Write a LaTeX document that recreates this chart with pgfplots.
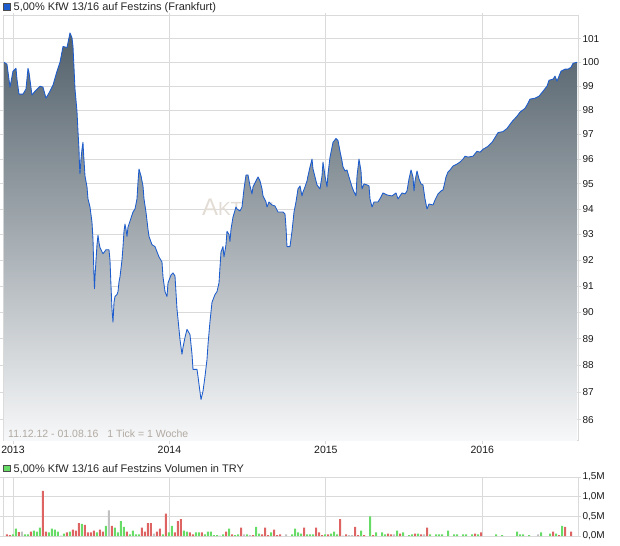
\documentclass[border=0pt]{standalone}
\usepackage{fontspec}
\setmainfont{Liberation Sans}
\usepackage{pgfplots}
\usepackage{pgfplotstable}
\pgfplotsset{compat=1.18}
\definecolor{gridgray}{RGB}{218,218,218}
\definecolor{lineblue}{RGB}{28,92,205}
\definecolor{shadetop}{RGB}{82,96,106}
\definecolor{shadebot}{RGB}{247,248,249}
\definecolor{volred}{RGB}{222,100,100}
\definecolor{volgreen}{RGB}{102,220,102}
\definecolor{volgray}{RGB}{192,192,192}
\definecolor{datetext}{RGB}{178,170,162}
\definecolor{wmark}{RGB}{226,220,212}

\pgfplotstableread{
w p
0 100.0
1 99.92
2 98.96
3 99.63
4 99.75
4.33 99.29
5 98.67
6.33 98.67
7.33 98.88
8 99.75
8.33 99.58
9.33 98.63
10.33 98.79
12 99.0
13 98.96
14 98.5
15.33 98.79
16.33 99.04
17.67 99.63
18.67 100.0
19.67 100.67
21 100.63
22 101.25
22.67 101.04
23 100.67
23.67 98.88
24.33 97.96
24.67 97.12
25 96.4
25.17 95.72
25.33 95.4
25.67 96.0
26 96.4
26.33 96.68
26.5 96.28
27 95.32
27.67 94.88
28 94.4
28.67 94.08
29.33 93.48
29.67 92.8
30 91.35
30.17 90.89
30.33 91.35
31 92.6
31.33 92.96
31.67 92.68
32 92.48
33 92.24
34 92.4
35 92.4
35.33 92.0
35.67 91.0
36 90.11
36.33 89.62
36.67 90.37
37 90.59
37.67 90.67
38 90.78
38.33 91.15
38.67 91.35
39.33 92.0
39.67 92.52
40 93.12
40.33 93.4
40.67 93.2
41 92.92
41.33 93.28
42 93.52
43 93.88
43.67 94.0
44.33 94.4
44.67 95.08
45 95.6
45.67 95.32
46.33 94.92
46.67 94.4
47.33 93.88
48 93.2
48.33 92.92
49.33 92.6
50.33 92.52
51 92.32
51.67 92.12
52.67 91.92
53 91.35
53.67 90.78
54.33 90.59
54.67 91.11
55.67 91.42
56.33 91.5
57 91.38
57.67 90.11
58 89.73
58.67 88.96
59.33 88.41
59.67 88.67
60.33 89.04
61 89.35
62 89.15
62.67 88.41
63 87.85
64.33 87.85
64.67 87.59
65 87.3
65.67 86.74
66.33 87.04
67 87.59
67.67 88.22
68 88.78
68.67 89.65
69.33 90.37
70.33 90.67
71 90.78
71.67 91.12
72 91.73
72.33 92.31
73 92.52
73.33 92.12
74 92.6
74.33 93.12
75 93.0
75.33 92.72
75.67 93.2
76.33 93.68
77.33 94.08
77.67 94.0
78.67 93.92
79.33 94.08
80 94.8
80.67 95.36
81.33 95.36
82 94.92
82.67 94.6
83 94.88
84 95.12
84.67 95.28
85.33 95.12
86 94.8
86.33 94.52
87.33 94.28
87.67 94.08
88.33 94.28
89.33 94.16
90.33 94.12
91.33 93.88
93 93.88
93.67 93.8
94 93.28
94.33 92.52
95.33 92.52
96 93.12
96.67 93.88
97.33 94.28
98 94.8
98.67 94.92
99.33 94.52
99.67 94.68
100.33 94.88
101 95.12
101.33 95.32
102 95.68
102.67 96.0
103 95.6
103.67 95.28
104.33 94.96
105.33 94.8
106 95.32
106.33 95.88
107 95.32
107.67 94.88
108 95.4
108.67 96.08
109.33 96.48
109.67 96.68
110.67 96.84
111.33 96.76
112 96.32
112.67 95.92
113 95.68
113.67 95.52
114.33 95.56
115 95.28
116 94.88
116.67 94.68
117.33 94.52
117.67 95.32
118.33 96.0
119 95.52
119.33 94.8
120 95.0
121 94.96
121.67 94.92
122 94.4
122.67 94.08
123.33 94.28
124.67 94.28
125.67 94.48
126.33 94.64
127.67 94.56
129.33 94.52
130.67 94.64
131.33 94.4
132 94.52
132.67 94.64
133.67 94.6
134.33 94.72
135 95.2
135.67 95.56
136.33 95.28
136.67 94.72
137 95.12
137.67 95.52
138.33 95.2
139 95.0
139.67 94.96
140.33 94.4
141 94.0
141.67 94.2
143 94.16
143.67 94.36
144.67 94.6
145.67 94.72
146.33 94.76
146.67 94.92
147.33 95.28
148 95.48
148.67 95.56
149.67 95.72
151 95.8
152 95.88
153 96.0
153.67 96.12
154.67 96.08
156.33 96.12
157.67 96.32
158.67 96.28
159.67 96.4
161.33 96.52
162.67 96.68
163.67 96.88
164.67 97.08
166.33 97.12
167.67 97.25
168.67 97.42
169.67 97.58
171 97.75
172 97.92
173.67 98.08
174.67 98.29
175.33 98.46
177 98.5
178.33 98.58
179.67 98.79
181 99.0
181.67 99.25
183 99.29
183.67 99.42
184.33 99.21
185.67 99.63
187 99.71
188 99.71
189 99.79
189.67 99.96
191 100.0
}\pricetable

\begin{document}
\begin{tikzpicture}
\path[use as bounding box] (0,0) rectangle (620bp,-546bp);
% title legend
\filldraw[fill=lineblue, draw=black!70, line width=0.6bp] (3.5bp,-3.5bp) rectangle (10bp,-10bp);
\node[anchor=base west, inner sep=0pt, font=\fontsize{11bp}{13bp}\selectfont, text=black!85] at (13.5bp,-10.3bp) {5,00\% KfW 13/16 auf Festzins (Frankfurt)};
% volume legend
\filldraw[fill=volgreen, draw=black!70, line width=0.6bp] (3.5bp,-465bp) rectangle (10bp,-471.5bp);
\node[anchor=base west, inner sep=0pt, font=\fontsize{11bp}{13bp}\selectfont, text=black!85] at (13.5bp,-472.3bp) {5,00\% KfW 13/16 auf Festzins Volumen in TRY};

\begin{axis}[
  at={(3bp,-16bp)}, anchor=north west,
  width=575bp, height=425bp, scale only axis,
  xmin=-0.33, xmax=191.33,
  ymode=log, log origin y=infty,
  ymin=85.24, ymax=101.98,
  xtick={3,55.14,107.29,159.43},
  xticklabels={2013,2014,2015,2016},
  ytick={86,87,88,89,90,91,92,93,94,95,96,97,98,99,100,101},
  yticklabels={86,87,88,89,90,91,92,93,94,95,96,97,98,99,100,101},
  yticklabel pos=right,
  grid=major,
  major grid style={draw=gridgray, line width=0.8bp},
  axis line style={draw=gridgray, line width=0.8bp},
  tick style={draw=gridgray, line width=0.8bp},
  tick align=outside, major tick length=3bp,
  xticklabel style={font=\fontsize{10.5bp}{12bp}\selectfont, text=black!90, yshift=1.5bp},
  yticklabel style={font=\fontsize{10bp}{12bp}\selectfont, text=black!90, xshift=-2bp},
  clip=true,
]
\node[anchor=center, text=wmark, font=\fontsize{24bp}{24bp}\selectfont] at (axis cs:78,94.05) {A{\fontsize{19bp}{19bp}\selectfont KTIEN}};
\addplot[draw=none, shade, top color=shadetop, bottom color=shadebot] table[x=w, y=p] {\pricetable} \closedcycle;
\addplot[draw=lineblue, line width=0.85bp, line join=round] table[x=w, y=p] {\pricetable};
\node[anchor=base west, inner sep=0pt, text=datetext, font=\fontsize{10.5bp}{12bp}\selectfont] at (rel axis cs:0.0087,0.007) {11.12.12 - 01.08.16\hspace{9bp}1 Tick = 1 Woche};
\end{axis}

\begin{axis}[
  at={(3bp,-477bp)}, anchor=north west,
  width=575bp, height=59bp, scale only axis,
  xmin=-0.33, xmax=191.33,
  ymin=0, ymax=1.5,
  xtick={3,55.14,107.29,159.43},
  xticklabels={},
  ytick={0,0.5,1,1.5},
  yticklabels={{0,0M},{0,5M},{1,0M},{1,5M}},
  yticklabel pos=right,
  grid=major,
  major grid style={draw=gridgray, line width=0.8bp},
  axis line style={draw=gridgray, line width=0.8bp},
  tick style={draw=gridgray, line width=0.8bp},
  tick align=outside, major tick length=3bp,
  xtick style={draw=none},
  yticklabel style={font=\fontsize{10bp}{12bp}\selectfont, text=black!90, xshift=-2bp},
]
\addplot[ybar, bar width=2bp, bar shift=0pt, fill=volred, draw=none] coordinates {
(1,.04)(2,.02)(5,.10)(9,.11)(13,1.15)(14,.11)(21,.09)(23,.16)(24,.14)(25,.33)(27,.28)(28,.09)(29,.09)(30,.14)(32,.16)(33,.11)(36,.26)(41,.11)(46,.21)(47,.11)(48,.33)(49,.33)(51,.11)(52,.19)(54,.57)(57,.09)(58,.38)(59,.43)(62,.09)(63,.04)
(66,.09)(74,.11)(76,.04)(79,.21)(83,.02)(86,.04)(87,.21)(88,.02)(90,.16)(91,.02)(92,.04)(100,.21)(104,.21)(105,.09)(106,.02)(108,.04)(112,.43)(114,.04)(117,.23)(118,.02)(120,.02)(123,.02)(128,.06)(129,.04)
(132,.06)(137,.06)(139,.04)(141,.21)(157,.06)(159,.09)(183,.11)(185,.02)(187,.23)(189,.11)
};
\addplot[ybar, bar width=2bp, bar shift=0pt, fill=volgreen, draw=none] coordinates {
(3,.04)(4,.19)(7,.04)(8,.04)(10,.14)(11,.11)(12,.21)(15,.09)(16,.19)(17,.16)(18,.11)(20,.06)(22,.11)(26,.31)(31,.09)(34,.26)(37,.21)(38,.09)(39,.38)(40,.23)(42,.04)(43,.14)(44,.04)(45,.04)(53,.04)(55,.09)(56,.26)(60,.14)(61,.11)(64,.09)(65,.09)
(67,.04)(68,.11)(69,.11)(70,.02)(71,.02)(73,.04)(75,.19)(77,.02)(78,.04)(81,.04)(84,.23)(85,.06)(89,.09)(96,.04)(97,.19)(98,.09)(99,.06)(101,.04)(102,.04)(103,.04)(107,.04)(109,.06)(110,.11)(111,.04)(119,.14)(122,.50)(124,.09)(126,.09)(127,.04)
(131,.14)(133,.09)(135,.02)(136,.04)(138,.06)(142,.04)(144,.04)(145,.04)(146,.04)(148,.14)(150,.04)(151,.04)(153,.04)(154,.04)(156,.04)(158,.04)(164,.04)(166,.02)(171,.11)(172,.04)(173,.04)(175,.02)(179,.09)(182,.06)(184,.06)(186,.26)
};
\addplot[ybar, bar width=2bp, bar shift=0pt, fill=volgray, draw=none] coordinates {
(6,.11)(19,.01)(35,.65)(50,.06)(72,.01)(80,.04)(82,.02)(94,.04)(113,.01)(115,.02)(116,.02)(130,.04)(140,.04)(178,.04)
};
\end{axis}
\end{tikzpicture}
\end{document}
